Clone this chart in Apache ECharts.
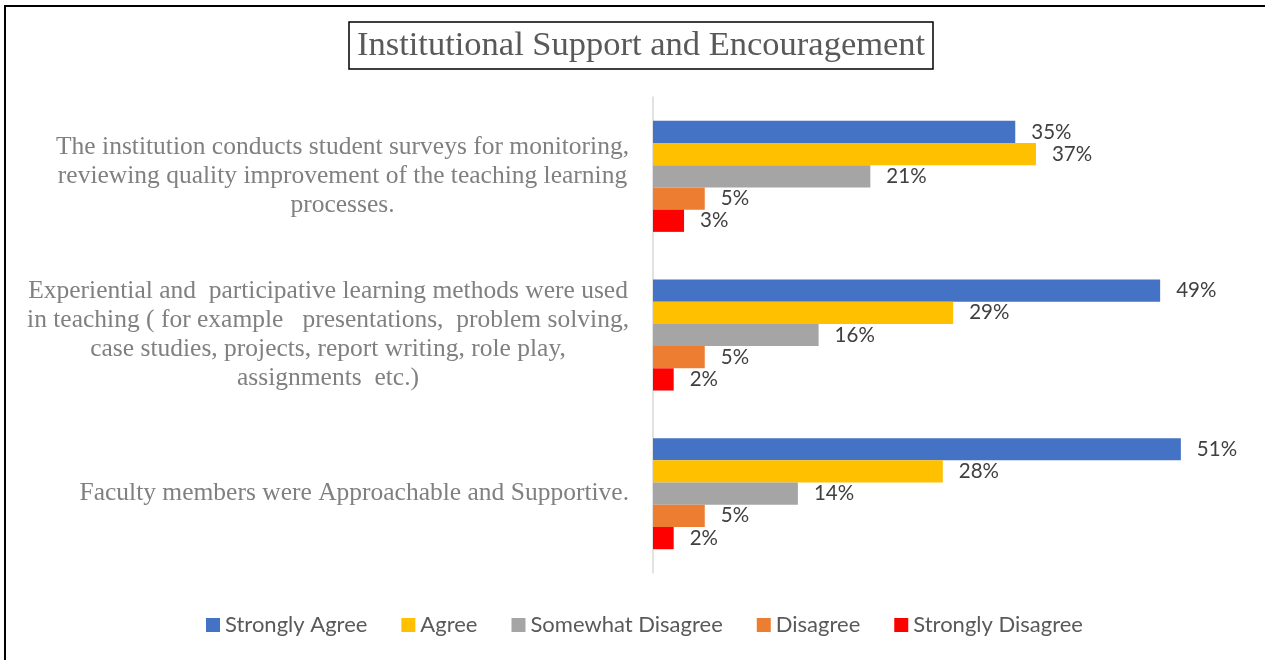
<!DOCTYPE html>
<html>
<head>
<meta charset="utf-8">
<script src="https://cdn.jsdelivr.net/npm/echarts@6/dist/echarts.min.js"></script>
<style>
  html, body { margin: 0; padding: 0; background: #fff; }
  #chart { width: 1265px; height: 660px; }
</style>
</head>
<body>
<div id="chart"></div>
<script>
// statements (top to bottom)
var categories = [
  'The institution conducts student surveys for monitoring,\nreviewing quality improvement of the teaching learning\nprocesses.',
  'Experiential and  participative learning methods were used\nin teaching ( for example   presentations,  problem solving,\ncase studies, projects, report writing, role play,\nassignments  etc.)',
  'Faculty members were Approachable and Supportive.'
]
var seriesNames = ['Strongly Agree', 'Agree', 'Somewhat Disagree', 'Disagree', 'Strongly Disagree']
// percent values per answer, one per statement
var stronglyAgree = [35, 49, 51]
var agree = [37, 29, 28]
var somewhatDisagree = [21, 16, 14]
var disagree = [5, 5, 5]
var stronglyDisagree = [3, 2, 2]
var colors = ['#4472C4', '#FFC000', '#A5A5A5', '#ED7D31', '#FF0000']

var values = [stronglyAgree, agree, somewhatDisagree, disagree, stronglyDisagree]

var chart = echarts.init(document.getElementById('chart'))

chart.setOption({
  backgroundColor: '#fff',
  animation: false,
  color: colors,
  title: {
    text: 'Institutional Support and Encouragement',
    left: 349,
    top: 22,
    padding: [6, 8],
    borderColor: '#000',
    borderWidth: 1.5,
    textStyle: {
      fontFamily: 'Liberation Serif',
      fontWeight: 'normal',
      fontSize: 34.5,
      lineHeight: 35,
      color: '#595959'
    }
  },
  // outer frame of the chart area
  graphic: [{
    type: 'rect',
    shape: { x: 5, y: 6, width: 1300, height: 700 },
    style: { fill: null, stroke: '#000', lineWidth: 2 }
  }],
  legend: {
    left: 201,
    top: 609,
    icon: 'rect',
    itemWidth: 14,
    itemHeight: 14,
    itemGap: 34,
    textStyle: { fontFamily: 'Lato', fontSize: 22, color: '#595959' },
    data: seriesNames
  },
  grid: { left: 653, top: 97, width: 621, height: 476, containLabel: false, outerBoundsMode: 'none' },
  xAxis: {
    type: 'value',
    min: 0,
    max: 60,
    show: false
  },
  yAxis: {
    type: 'category',
    inverse: true,
    data: categories,
    axisLine: { show: true, lineStyle: { color: '#D9D9D9', width: 1.5 } },
    axisTick: { show: false },
    axisLabel: {
      // block sits right, each line centred inside it
      align: 'right',
      margin: 24,
      formatter: function (v) {
        return v.split('\n').map(function (l) { return '{c|' + l + '}' }).join('\n')
      },
      rich: {
        c: {
          align: 'center',
          fontFamily: 'Liberation Serif',
          fontSize: 25.5,
          lineHeight: 29,
          color: '#808080'
        }
      }
    }
  },
  series: seriesNames.map(function (name, i) {
    return {
      name: name,
      type: 'bar',
      data: values[i],
      barGap: '0%',
      barCategoryGap: '30%',
      label: {
        show: true,
        position: 'right',
        distance: 16,
        formatter: '{c}%',
        fontFamily: 'Lato',
        fontSize: 20.5,
        color: '#404040'
      }
    }
  })
})
</script>
</body>
</html>
